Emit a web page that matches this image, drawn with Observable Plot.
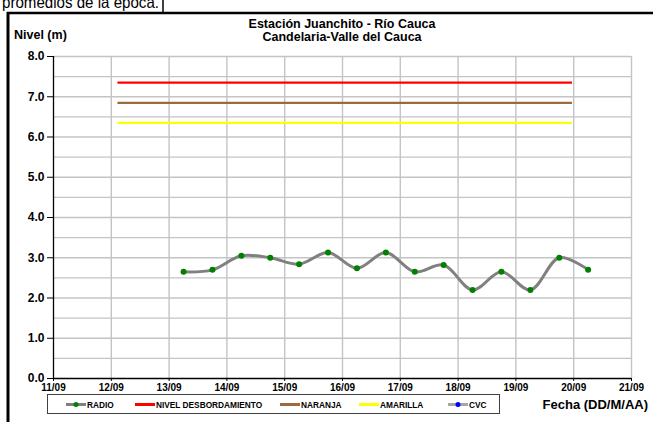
<!DOCTYPE html>
<html>
<head>
<meta charset="utf-8">
<script src="https://cdn.jsdelivr.net/npm/d3@7"></script>
<script src="https://cdn.jsdelivr.net/npm/@observablehq/plot@0.6"></script>
<style>
  html, body { margin: 0; padding: 0; background: #fff; }
  svg { display: block; }
</style>
</head>
<body>
<div id="chart"></div>
<script>
// ---- Data ----
const radioFechas = [
  "2010-09-13T06:00Z", "2010-09-13T18:00Z",
  "2010-09-14T06:00Z", "2010-09-14T18:00Z",
  "2010-09-15T06:00Z", "2010-09-15T18:00Z",
  "2010-09-16T06:00Z", "2010-09-16T18:00Z",
  "2010-09-17T06:00Z", "2010-09-17T18:00Z",
  "2010-09-18T06:00Z", "2010-09-18T18:00Z",
  "2010-09-19T06:00Z", "2010-09-19T18:00Z",
  "2010-09-20T06:00Z"
];
const radioNivel = [2.65, 2.70, 3.05, 3.00, 2.84, 3.13, 2.74, 3.13, 2.65, 2.82, 2.20, 2.65, 2.20, 3.00, 2.70];

const umbralNombres = ["NIVEL DESBORDAMIENTO", "NARANJA", "AMARILLA"];
const umbralNivel = [7.35, 6.85, 6.35];
const umbralColores = ["#ff0000", "#9c6a3c", "#ffff00"];
const umbralInicio = "2010-09-12T02:45Z";
const umbralFin = "2010-09-19T23:30Z";

const ejeXInicio = "2010-09-11T00:00Z";
const ejeXFin = "2010-09-21T00:00Z";
const yTicks = [0, 1, 2, 3, 4, 5, 6, 7, 8];
const yGrid = [0.5, 1, 1.5, 2, 2.5, 3, 3.5, 4, 4.5, 5, 5.5, 6, 6.5, 7, 7.5, 8];

const titulo1 = "Estación Juanchito - Río Cauca";
const titulo2 = "Candelaria-Valle del Cauca";
const tituloY = "Nivel (m)";
const tituloX = "Fecha (DD/M/AA)";
const textoSuperior = "promedios de la época.";

const leyendaNombres = ["RADIO", "NIVEL DESBORDAMIENTO", "NARANJA", "AMARILLA", "CVC"];
const leyendaColores = ["#808080", "#ff0000", "#9c6a3c", "#ffff00", "#a6a6a6"];
const leyendaPuntos = ["#008000", null, null, null, "#0000ff"];

// ---- Build tables ----
const radio = radioFechas.map((f, i) => ({fecha: new Date(f), nivel: radioNivel[i]}));
const umbrales = umbralNombres.map((n, i) => ({nombre: n, nivel: umbralNivel[i], color: umbralColores[i]}));
const x0 = new Date(ejeXInicio), x1 = new Date(ejeXFin);
const dias = d3.utcDay.range(x0, new Date(+x1 + 1));

const FONT = "'Liberation Sans', Arial, Helvetica, sans-serif";

const chart = Plot.plot({
  width: 653,
  height: 422,
  marginLeft: 53,
  marginRight: 22,
  marginTop: 56,
  marginBottom: 44,
  style: {fontFamily: FONT, fontWeight: "bold", color: "black", background: "white", overflow: "visible"},
  x: {type: "utc", domain: [x0, x1]},
  y: {domain: [0, 8]},
  marks: [
    Plot.gridY(yGrid, {stroke: "#c4c4c4", strokeOpacity: 1, strokeWidth: 1.4}),
    Plot.gridX(dias.slice(1), {stroke: "#c4c4c4", strokeOpacity: 1, strokeWidth: 1.4}),
    Plot.ruleY(umbrales, {y: "nivel", x1: new Date(umbralInicio), x2: new Date(umbralFin), stroke: "color", strokeWidth: 2.2}),
    Plot.line(radio, {x: "fecha", y: "nivel", curve: "catmull-rom", stroke: "#808080", strokeWidth: 3}),
    Plot.dot(radio, {x: "fecha", y: "nivel", r: 3, fill: "#008000"}),
    Plot.ruleX([x0], {stroke: "black", strokeWidth: 1.3}),
    Plot.ruleY([0], {stroke: "black", strokeWidth: 1.3}),
    Plot.axisY({ticks: yTicks, tickFormat: d3.format(".1f"), tickSize: 6, tickPadding: 3, fontSize: 12, label: null}),
    Plot.axisX({ticks: dias, tickFormat: d3.utcFormat("%d/%m"), tickSize: 3, tickPadding: 2, fontSize: 10, label: null})
  ]
});

document.getElementById("chart").appendChild(chart);

// ---- Decorations (titles, legend, frame) ----
const svg = d3.select(chart);
const g = svg.append("g").attr("font-family", FONT).attr("font-weight", "bold")
  .attr("fill", "black").attr("text-anchor", "start");

// top cut text from the document
g.append("text").attr("x", 2).attr("y", 7.5).attr("font-size", 16.5).attr("font-weight", "normal")
  .attr("textLength", 157).attr("lengthAdjust", "spacingAndGlyphs").text(textoSuperior);
// frame lines
g.append("line").attr("x1", 163).attr("x2", 163).attr("y1", 0).attr("y2", 13).attr("stroke", "black").attr("stroke-width", 1.5);
g.append("line").attr("x1", 7).attr("x2", 653).attr("y1", 13).attr("y2", 13).attr("stroke", "black").attr("stroke-width", 2.5);
g.append("line").attr("x1", 8).attr("x2", 8).attr("y1", 12).attr("y2", 422).attr("stroke", "black").attr("stroke-width", 3);

// titles
g.append("text").attr("x", 342).attr("y", 28).attr("text-anchor", "middle").attr("font-size", 12.5).text(titulo1);
g.append("text").attr("x", 342).attr("y", 41).attr("text-anchor", "middle").attr("font-size", 12.5).text(titulo2);
g.append("text").attr("x", 14).attr("y", 39).attr("font-size", 12.5).text(tituloY);
g.append("text").attr("x", 648).attr("y", 409).attr("text-anchor", "end").attr("font-size", 13).text(tituloX);

// legend
const lg = g.append("g");
lg.append("rect").attr("x", 47.5).attr("y", 394.5).attr("width", 452).attr("height", 19)
  .attr("fill", "white").attr("stroke", "#404040").attr("stroke-width", 1);
const legX = [66, 135, 280, 359, 448];
leyendaNombres.forEach((n, i) => {
  const lx = legX[i], cy = 404.5;
  lg.append("line").attr("x1", lx).attr("x2", lx + 20).attr("y1", cy).attr("y2", cy)
    .attr("stroke", leyendaColores[i]).attr("stroke-width", 3);
  if (leyendaPuntos[i]) lg.append("circle").attr("cx", lx + 10).attr("cy", cy).attr("r", 2.5).attr("fill", leyendaPuntos[i]);
  lg.append("text").attr("x", lx + 21).attr("y", cy + 3).attr("font-size", 8.3).text(n);
});
</script>
</body>
</html>
